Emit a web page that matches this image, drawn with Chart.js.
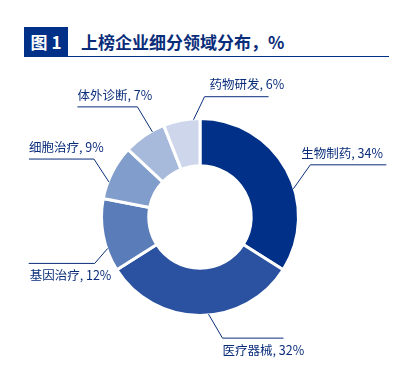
<!DOCTYPE html>
<html>
<head>
<meta charset="utf-8">
<script src="https://cdn.jsdelivr.net/npm/chart.js@4/dist/chart.umd.min.js"></script>
<style>
    body { margin: 0; background: #fff; font-family: "Noto Sans CJK SC", "Noto Sans", sans-serif; }
    #wrap { position: relative; width: 410px; height: 380px; }
    #head { position: absolute; left: 24px; top: 27px; width: 365px; height: 29px; border-bottom: 1.5px solid #003087; }
    #tag { position: absolute; left: 0; top: 0; width: 44px; height: 29px; background: #003087; color: #fff;
           font-weight: bold; font-size: 17px; line-height: 29px; text-align: center; }
    #title { position: absolute; left: 57px; top: 0; line-height: 29px; font-size: 17px; font-weight: bold; color: #0a2d7a; white-space: nowrap; }
    canvas { position: absolute; left: 0; top: 0; }
</style>
</head>
<body>
<div id="wrap">
    <div id="head">
        <div id="tag">图 1</div>
        <div id="title">上榜企业细分领域分布，%</div>
    </div>
    <canvas id="myChart" width="410" height="380"></canvas>
</div>
<script>
const categories = ['生物制药', '医疗器械', '基因治疗', '细胞治疗', '体外诊断', '药物研发'];
const shares = [34, 32, 12, 9, 7, 6];
const colors = ['#003087', '#2a52a0', '#5a7dba', '#819dcb', '#a8badb', '#cdd6ea'];

// leader line layout per slice: angle nudge (deg), elbow offset, horizontal length, text side, text x shift
const leaders = [
    { nudge: 12, dx: 17, dy: -24, len: 76, side: 'above', tx: -9 },
    { nudge: -5, dx: 14, dy: 24, len: 61, side: 'below', tx: 0 },
    { nudge: -8, dx: -13, dy: 15, len: -66, side: 'below', tx: 1 },
    { nudge: -6, dx: -15, dy: -23, len: -65, side: 'above', tx: 0 },
    { nudge: 5, dx: -15, dy: -25, len: -60, side: 'above', tx: 0 },
    { nudge: 7, dx: 11, dy: -23, len: 64, side: 'above', tx: 5 }
];

const leaderLabels = {
    id: 'leaderLabels',
    afterDatasetsDraw(chart) {
        const ctx = chart.ctx;
        const meta = chart.getDatasetMeta(0);
        ctx.save();
        ctx.strokeStyle = '#0a2d7a';
        ctx.lineWidth = 1;
        ctx.fillStyle = '#0a2d7a';
        ctx.font = '12.5px "Noto Sans CJK SC", sans-serif';
        ctx.textBaseline = 'middle';
        ctx.textAlign = 'left';
        meta.data.forEach((arc, i) => {
            const p = arc.getProps(['x', 'y', 'startAngle', 'endAngle', 'outerRadius'], true);
            const L = leaders[i];
            const a = (p.startAngle + p.endAngle) / 2 + L.nudge * Math.PI / 180;
            const r = p.outerRadius - 1;
            const sx = p.x + r * Math.cos(a);
            const sy = p.y + r * Math.sin(a);
            const ex = sx + L.dx;
            const ey = sy + L.dy;
            const hx = ex + L.len;
            ctx.beginPath();
            ctx.moveTo(sx, sy);
            ctx.lineTo(ex, ey);
            ctx.lineTo(hx, ey);
            ctx.stroke();
            const textX = Math.min(ex, hx) + L.tx;
            const textY = L.side === 'above' ? ey - 12 : ey + 12;
            ctx.fillText(categories[i] + ', ' + shares[i] + '%', textX, textY);
        });
        ctx.restore();
    }
};

const ctx = document.getElementById('myChart').getContext('2d');
new Chart(ctx, {
    type: 'doughnut',
    data: {
        labels: categories,
        datasets: [{
            data: shares,
            backgroundColor: colors,
            borderColor: '#ffffff',
            borderWidth: 3
        }]
    },
    options: {
        responsive: false,
        animation: false,
        cutout: '52%',
        layout: { padding: { left: 100, right: 110, top: 117, bottom: 63 } },
        plugins: {
            legend: { display: false },
            tooltip: { enabled: false }
        }
    },
    plugins: [leaderLabels]
});
</script>
</body>
</html>
